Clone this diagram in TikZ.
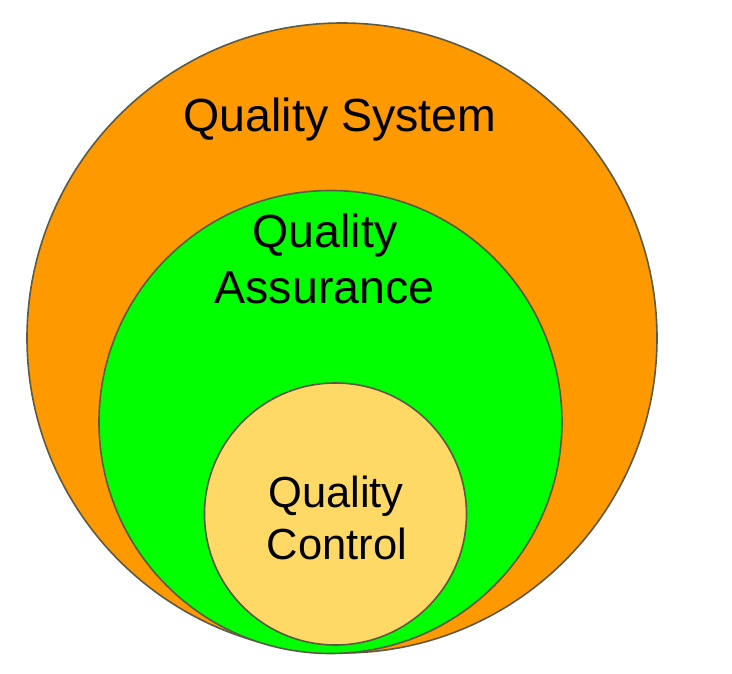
\documentclass[tikz,border=0pt]{standalone}
\usepackage{fontspec}
\setmainfont{Liberation Sans}
\definecolor{qsorange}{HTML}{FF9900}
\definecolor{qagreen}{HTML}{00FF00}
\definecolor{qcyellow}{HTML}{FFD966}
\definecolor{rim}{HTML}{5A5A45}
\begin{document}
\begin{tikzpicture}[x=1pt,y=-1pt,
  ring/.style={circle, draw=rim, line width=1.6pt, inner sep=0pt, outer sep=0pt},
  lbl/.style={anchor=base, inner sep=0pt, font=\fontsize{46.5}{56}\selectfont, text=black},
  slbl/.style={lbl, font=\fontsize{43.5}{52}\selectfont}]
\useasboundingbox[fill=white] (0,0) rectangle (732,674);
\node[ring, fill=qsorange, minimum size=630pt] (qs) at (342,338) {};
\node[ring, fill=qagreen, minimum size=463pt] (qa) at (330.5,422) {};
\node[ring, fill=qcyellow, minimum size=262pt] (qc) at (335.5,514) {};
\node[lbl] (tqs) at (340,132) {Quality System};
\node[lbl] (tqa1) at (325,248) {Quality};
\node[lbl] (tqa2) at (324.5,303) {Assurance};
\node[slbl] (tqc1) at (336,507) {Quality};
\node[slbl] (tqc2) at (337,559) {Control};
\end{tikzpicture}
\end{document}
